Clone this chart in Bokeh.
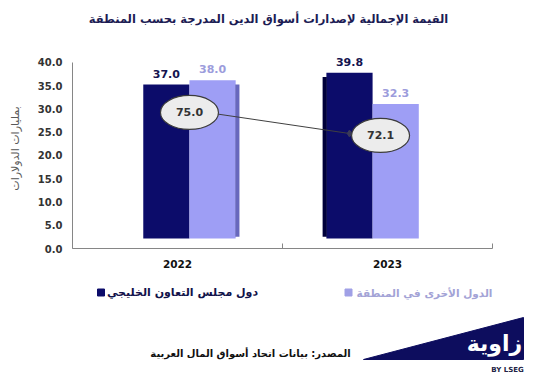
from bokeh.plotting import figure
from bokeh.models import Range1d, FixedTicker, NumeralTickFormatter, ColumnDataSource, LabelSet
from bokeh.embed import file_html
from bokeh.resources import INLINE
from bokeh.core.properties import value

# ---------------- data ----------------
years = ["2022", "2023"]
gcc = [37.0, 39.8]            # دول مجلس التعاون الخليجي
other = [38.0, 32.3]          # الدول الأخرى في المنطقة
total = [75.0, 72.1]
y_ticks = [0, 5, 10, 15, 20, 25, 30, 35, 40]

title_text = "القيمة الإجمالية لإصدارات أسواق الدين المدرجة بحسب المنطقة"
y_title = "بمليارات الدولارات"
gcc_name = "دول مجلس التعاون الخليجي"
other_name = "الدول الأخرى في المنطقة"
source_text = "المصدر: بيانات اتحاد أسواق المال العربية"

# ---------------- styles ----------------
FONT = "DejaVu Sans"
DARK = "#0c0c6a"
LIGHT = "#9e9ef5"
NAVY = "#0d0d5e"
pair_offset = [0.057, -0.071]
bar_w = 0.22
ell_dx = [0.0, 0.038]
ell_dy = [-0.64, -0.21]

idx = list(range(len(years)))
pair_c = [i + 0.5 + o for i, o in zip(idx, pair_offset)]
dark_x = [c - bar_w / 2 for c in pair_c]
light_x = [c + bar_w / 2 for c in pair_c]

W = 533
H_HEAD, H_MAIN, H_FOOT = 41, 235, 104
FL, FR, FT, FB = 72, 492, 48, 248   # frame edges in page pixels


def blank(h, y0):
    f = figure(width=W, height=h, x_range=Range1d(0, W), y_range=Range1d(y0 + h, y0),
               x_axis_type=None, y_axis_type=None, output_backend="svg", toolbar_location=None,
               min_border=0, outline_line_color=None)
    f.grid.visible = False
    return f


# ---------------- header ----------------
head = blank(H_HEAD, 0)
head.text(x=[268], y=[18], text=[title_text], text_align="center", text_baseline="middle",
          text_font=value(FONT), text_font_style="bold", text_font_size="11.5px",
          text_color="#1c1c54")

# ---------------- main chart ----------------
p = figure(width=W, height=H_MAIN, x_range=Range1d(0, 2), y_range=Range1d(0, 43.01),
           output_backend="svg", toolbar_location=None,
           min_border_left=FL, min_border_right=W - FR,
           min_border_top=FT - H_HEAD, min_border_bottom=H_HEAD + H_MAIN - FB,
           outline_line_color=None)
p.extra_y_ranges = {"bars": Range1d(-2.40, 45.65), "total": Range1d(59.75, 81.23)}
p.grid.visible = False

# bars
p.vbar(x=dark_x, top=gcc, bottom=0, width=bar_w, y_range_name="bars",
       fill_color=DARK, line_color=None)
p.vbar(x=light_x, top=other, bottom=0, width=bar_w, y_range_name="bars",
       fill_color=LIGHT, line_color=None)
# 3D side faces
side_w = 0.02
p.vbar(x=[light_x[0] + bar_w / 2 + side_w / 2 - 0.002], top=[other[0] - 1.0], bottom=0.4,
       width=side_w, y_range_name="bars", fill_color="#6868bd", line_color=None)
p.vbar(x=[dark_x[1] - bar_w / 2 - side_w / 2 + 0.002], top=[gcc[1] - 1.0], bottom=0.4,
       width=side_w, y_range_name="bars", fill_color="#00003a", line_color=None)

# value labels
src_d = ColumnDataSource(dict(x=dark_x, y=gcc, t=[f"{v:.1f}" for v in gcc]))
src_l = ColumnDataSource(dict(x=light_x, y=other, t=[f"{v:.1f}" for v in other]))
for src, col in ((src_d, "#141450"), (src_l, "#9c9cdc")):
    p.add_layout(LabelSet(x="x", y="y", text="t", source=src, y_range_name="bars",
                          y_offset=7, text_align="center", text_baseline="bottom",
                          text_font=value(FONT), text_font_style="bold",
                          text_font_size="11px", text_color=col))

# total line
p.line(x=dark_x, y=total, y_range_name="total", line_color="#404040", line_width=1)
p.scatter(x=dark_x, y=total, y_range_name="total", marker="diamond", size=7,
          fill_color="#3a3a5a", line_color="#3a3a5a")
ex = [c + d for c, d in zip(pair_c, ell_dx)]
ey = [t + d for t, d in zip(total, ell_dy)]
p.ellipse(x=ex, y=ey, width=58, height=34, width_units="screen", height_units="screen",
          y_range_name="total", fill_color="#ececec", line_color="#3c3c3c", line_width=1.2)
p.text(x=ex, y=ey, text=[f"{v:.1f}" for v in total], y_range_name="total",
       text_align="center", text_baseline="middle", text_font=value(FONT),
       text_font_style="bold", text_font_size="11px", text_color="#333333")

# axes
xa = p.xaxis[0]
xa.ticker = FixedTicker(ticks=[i + 0.5 for i in idx], minor_ticks=[0, 1, 2])
xa.major_label_overrides = {i + 0.5: y for i, y in zip(idx, years)}
xa.major_tick_in = 0
xa.major_tick_out = 0
xa.minor_tick_in = 5
xa.minor_tick_out = 0
xa.minor_tick_line_color = "#868686"
xa.axis_line_color = "#868686"
xa.major_label_standoff = 11
xa.major_label_text_font = FONT
xa.major_label_text_font_style = "bold"
xa.major_label_text_font_size = "10.5px"
xa.major_label_text_color = "#111111"

ya = p.yaxis[0]
ya.ticker = FixedTicker(ticks=y_ticks)
ya.bounds = (0, 40)
ya.formatter = NumeralTickFormatter(format="0.0")
ya.major_tick_in = 0
ya.major_tick_out = 0
ya.minor_tick_in = 0
ya.minor_tick_out = 0
ya.axis_line_color = "#868686"
ya.major_label_standoff = 10
ya.major_label_text_font = FONT
ya.major_label_text_font_style = "bold"
ya.major_label_text_font_size = "10px"
ya.major_label_text_color = "#333333"
ya.axis_label = y_title
ya.axis_label_text_font = FONT
ya.axis_label_text_font_style = "normal"
ya.axis_label_text_font_size = "11px"
ya.axis_label_text_color = "#595959"
ya.axis_label_standoff = 13

# ---------------- footer ----------------
foot = blank(H_FOOT, H_HEAD + H_MAIN)
foot.scatter(x=[100.5], y=[292], marker="square", size=7, fill_color=DARK, line_color=DARK)
foot.text(x=[182], y=[292], text=[gcc_name], text_align="center", text_baseline="middle",
          text_font=value(FONT), text_font_style="bold", text_font_size="11px",
          text_color="#12124a")
foot.scatter(x=[348], y=[292], marker="square", size=7, fill_color="#a0a0e6", line_color="#a0a0e6")
foot.text(x=[424], y=[292], text=[other_name], text_align="center", text_baseline="middle",
          text_font=value(FONT), text_font_style="bold", text_font_size="10.5px",
          text_color="#a3a3d6")
foot.text(x=[250], y=[353], text=[source_text], text_align="center", text_baseline="middle",
          text_font=value(FONT), text_font_style="bold", text_font_size="10px",
          text_color="#111111")
foot.patch(x=[363, 523, 523], y=[359, 317, 359], fill_color=NAVY, line_color=NAVY)
foot.text(x=[494], y=[343], text=["زاوية"], text_align="center", text_baseline="middle",
          text_font=value(FONT), text_font_style="bold", text_font_size="22px", text_color="white")
foot.text(x=[507], y=[369], text=["BY LSEG"], text_align="center", text_baseline="middle",
          text_font=value(FONT), text_font_style="bold", text_font_size="7px", text_color="#222244")

open("out.html", "w").write(file_html([head, p, foot], INLINE))
